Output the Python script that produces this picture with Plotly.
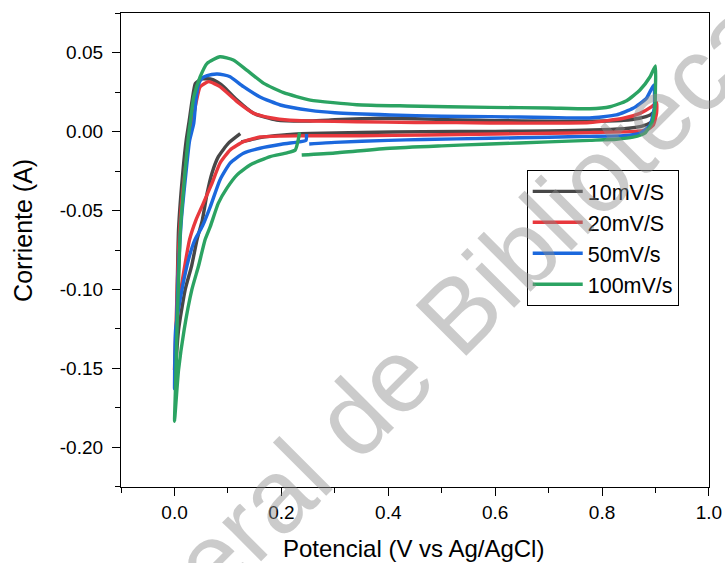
import plotly.graph_objects as go

# ---- data (Potential V vs Ag/AgCl, Current A) ----
series_names = ["10mV/S", "20mV/S", "50mV/s", "100mV/s"]
series_colors = ["#474747", "#e8383d", "#1b68dd", "#2ba362"]

v_10 = [0.123, 0.101, 0.082, 0.070, 0.061, 0.052, 0.042, 0.032, 0.020, 0.0075, 0.002, 0.001,
        0.003, 0.005, 0.0075, 0.016, 0.022, 0.027, 0.033, 0.039, 0.051, 0.067, 0.080, 0.092, 0.117, 0.148,
        0.191, 0.254, 0.30, 0.35, 0.40, 0.45, 0.53, 0.60, 0.70, 0.777, 0.84, 0.87, 0.89, 0.90,
        0.899, 0.89, 0.875, 0.85, 0.80, 0.70, 0.60, 0.466, 0.35, 0.254, 0.20, 0.16, 0.125]
i_10 = [-0.0013, -0.0073, -0.0158, -0.0263, -0.039, -0.056, -0.0686, -0.085, -0.100, -0.1255, -0.151, -0.158,
        -0.14, -0.10, -0.062, -0.024, -0.005, 0.006, 0.020, 0.0306, 0.0334, 0.0334, 0.0315, 0.0285, 0.020, 0.0116,
        0.0074, 0.0068, 0.0075, 0.0082, 0.0085, 0.0082, 0.0074, 0.007, 0.0066, 0.0066, 0.0072, 0.0085, 0.0105, 0.013,
        0.009, 0.0055, 0.0035, 0.0022, 0.0012, 0.0005, 0.0002, 0.0, -0.0005, -0.0012, -0.0022, -0.0038, -0.0065]

v_20 = [0.902, 0.902, 0.896, 0.883, 0.852, 0.777, 0.70, 0.60, 0.466, 0.35, 0.254, 0.20, 0.160, 0.129,
        0.104, 0.085, 0.070, 0.054, 0.040, 0.028, 0.012, 0.003, 0.0,
        0.003, 0.007, 0.012, 0.020, 0.027, 0.033, 0.040, 0.048, 0.064, 0.085, 0.117, 0.148, 0.179, 0.216,
        0.254, 0.341, 0.45, 0.528, 0.65, 0.777, 0.84, 0.871, 0.893, 0.902]
i_20 = [0.0184, 0.0116, 0.0042, 0.001, 0.0, -0.0006, -0.001, -0.0015, -0.0021, -0.0026, -0.0026, -0.0028, -0.0034, -0.0063,
        -0.0116, -0.020, -0.0327, -0.0453, -0.056, -0.0686, -0.100, -0.1255, -0.150,
        -0.12, -0.08, -0.05, -0.024, -0.005, 0.0053, 0.018, 0.0285, 0.0317, 0.0285, 0.019, 0.0116, 0.0088, 0.0072,
        0.0068, 0.0063, 0.0058, 0.0057, 0.0054, 0.0058, 0.0085, 0.0116, 0.0158, 0.0184]

v_50 = [0.247, 0.246, 0.232, 0.20, 0.160, 0.129, 0.104, 0.085, 0.067, 0.052, 0.038, 0.027, 0.014, 0.002, 0.0,
        0.003, 0.007, 0.013, 0.022, 0.028, 0.036, 0.040, 0.045, 0.052, 0.061, 0.079, 0.092, 0.104, 0.129,
        0.160, 0.198, 0.254, 0.30, 0.403, 0.50, 0.590, 0.70, 0.777, 0.827, 0.858, 0.883, 0.897,
        0.898, 0.890, 0.871, 0.840, 0.777, 0.70, 0.590, 0.466, 0.40, 0.30, 0.252]
i_50 = [-0.0015, -0.0055, -0.0065, -0.008, -0.0105, -0.0137, -0.020, -0.0306, -0.0475, -0.060, -0.0686, -0.08, -0.100, -0.1255, -0.163,
        -0.13, -0.09, -0.055, -0.024, -0.006, 0.0053, 0.020, 0.030, 0.034, 0.0355, 0.0365, 0.036, 0.0348, 0.0285,
        0.022, 0.0169, 0.0135, 0.012, 0.0106, 0.0098, 0.0095, 0.009, 0.0087, 0.0106, 0.0148, 0.0211, 0.0296,
        0.0158, 0.0042, -0.001, -0.0025, -0.003, -0.0035, -0.0042, -0.005, -0.0055, -0.0068, -0.0078]

v_100 = [0.234, 0.231, 0.226, 0.210, 0.179, 0.142, 0.117, 0.098, 0.082, 0.067, 0.057, 0.045, 0.0325, 0.018, 0.0075, 0.003, 0.0,
         0.002, 0.005, 0.008, 0.011, 0.020, 0.026, 0.030, 0.036, 0.048, 0.061, 0.085, 0.110, 0.135, 0.167, 0.204,
         0.254, 0.341, 0.435, 0.590, 0.70, 0.777, 0.815, 0.846, 0.871, 0.890, 0.900,
         0.900, 0.899, 0.893, 0.880, 0.858, 0.827, 0.777, 0.70, 0.590, 0.50, 0.403, 0.30, 0.238]
i_100 = [-0.0004, -0.006, -0.0116, -0.0135, -0.0158, -0.021, -0.0274, -0.0358, -0.0453, -0.060, -0.0686, -0.085, -0.100, -0.1255, -0.151, -0.170, -0.1835,
         -0.16, -0.12, -0.09, -0.062, -0.024, -0.003, 0.0074, 0.022, 0.0348, 0.0433, 0.0475, 0.0454, 0.039, 0.0306, 0.0247,
         0.020, 0.0171, 0.0163, 0.0154, 0.015, 0.0145, 0.0158, 0.0196, 0.0264, 0.0348, 0.0416,
         0.0285, 0.0158, 0.0053, -0.001, -0.0035, -0.0048, -0.0055, -0.0065, -0.0078, -0.009, -0.0105, -0.0135, -0.0148]

x_tick_vals = [0.0, 0.2, 0.4, 0.6, 0.8, 1.0]
x_tick_text = ["0.0", "0.2", "0.4", "0.6", "0.8", "1.0"]
x_minor_vals = [-0.1, 0.1, 0.3, 0.5, 0.7, 0.9]
y_tick_vals = [0.05, 0.0, -0.05, -0.10, -0.15, -0.20]
y_tick_text = ["0.05", "0.00", "-0.05", "-0.10", "-0.15", "-0.20"]
y_minor_vals = [0.075, 0.025, -0.025, -0.075, -0.125, -0.175, -0.225]

x_title = "Potencial (V vs Ag/AgCl)"
y_title = "Corriente (A)"
watermark = "Dirección General de Bibliotecas"

xs = [v_10, v_20, v_50, v_100]
ys = [i_10, i_20, i_50, i_100]

FONT = "Liberation Sans, Arial, sans-serif"

fig = go.Figure()
for name, col, x, y in zip(series_names, series_colors, xs, ys):
    fig.add_trace(go.Scatter(x=x, y=y, name=name, mode="lines",
                             line=dict(color=col, width=3.4, shape="spline", smoothing=0.5)))

axis_common = dict(showline=True, linecolor="black", linewidth=1.3, mirror=True,
                   showgrid=False, zeroline=False, ticks="outside", ticklen=8, tickwidth=1.3,
                   tickcolor="black", tickmode="array", automargin=False,
                   tickfont=dict(family=FONT, size=19, color="black"))

fig.update_xaxes(range=[-0.1002, 1.0002], tickvals=x_tick_vals, ticktext=x_tick_text,
                 minor=dict(tickmode="array", tickvals=x_minor_vals, ticks="outside", ticklen=5,
                            tickwidth=1.3, tickcolor="black"),
                 **axis_common)
fig.update_yaxes(range=[-0.2252, 0.0752], tickvals=y_tick_vals, ticktext=y_tick_text,
                 ticklabelstandoff=5,
                 minor=dict(tickmode="array", tickvals=y_minor_vals, ticks="outside", ticklen=5,
                            tickwidth=1.3, tickcolor="black"),
                 **axis_common)

fig.update_layout(
    width=725, height=563,
    margin=dict(l=121, r=16, t=13, b=76),
    paper_bgcolor="white", plot_bgcolor="white",
    showlegend=True,
    legend=dict(x=0.69, y=0.669, xanchor="left", yanchor="top",
                bgcolor="white", bordercolor="black", borderwidth=1, itemwidth=50,
                font=dict(family=FONT, size=21.5, color="black"), tracegroupgap=0),
    annotations=[
        dict(text=watermark, xref="paper", yref="paper", x=0.232, y=-0.058,
             xanchor="center", yanchor="middle", showarrow=False, textangle=-45,
             font=dict(family=FONT, size=104, color="rgba(140,140,140,0.45)")),
        dict(text=x_title, xref="paper", yref="paper", x=0.4975, y=-0.13,
             xanchor="center", yanchor="middle", showarrow=False,
             font=dict(family=FONT, size=24, color="black")),
        dict(text=y_title, xref="paper", yref="paper", x=-0.167, y=0.542,
             xanchor="center", yanchor="middle", showarrow=False, textangle=-90,
             font=dict(family=FONT, size=25, color="black")),
    ],
)

fig.write_html("out.html", config={"displayModeBar": False},
               post_script="document.body.style.margin='0';document.body.style.overflow='hidden';")
